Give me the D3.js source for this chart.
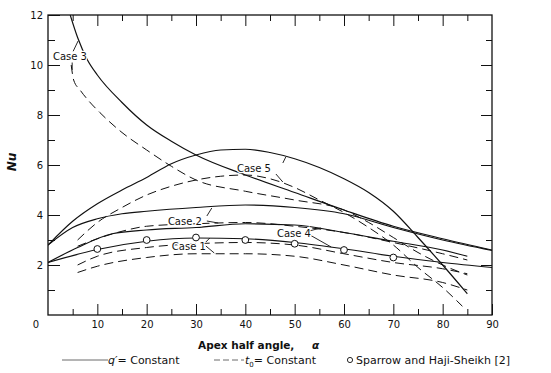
<!DOCTYPE html>
<html>
<head>
<meta charset="utf-8">
<script src="https://cdn.jsdelivr.net/npm/d3@7"></script>
<style>
  body { margin: 0; background: #fff; }
  svg text { font-family: "DejaVu Sans", sans-serif; fill: #111; }
</style>
</head>
<body>
<div id="chart"></div>
<script>
// tick values
const xTicks = [10, 20, 30, 40, 50, 60, 70, 80, 90];
const xMinorTicks = [5, 15, 25, 35, 45, 55, 65, 75, 85];
const yTicks = [2, 4, 6, 8, 10, 12];
const yMinorTicks = [1, 3, 5, 7, 9, 11];

// q' = constant (solid), [alpha, Nu]
const case1Solid = [[0, 2.1], [10, 2.62], [20, 2.95], [30, 3.08], [40, 3.05], [50, 2.9], [60, 2.65], [70, 2.35], [80, 2.1], [90, 1.9]];
const case2Solid = [[0, 2.8], [5, 3.5], [10, 3.85], [15, 4.05], [20, 4.15], [30, 4.3], [40, 4.4], [50, 4.3], [60, 4.05], [70, 3.5], [80, 3.0], [90, 2.58]];
const case3Solid = [[4.5, 12], [6, 11.1], [8, 10.2], [10, 9.6], [15, 8.5], [20, 7.6], [25, 6.95], [30, 6.4], [40, 5.6], [50, 4.9], [60, 4.2], [70, 3.55], [80, 3.05], [90, 2.6]];
const case4Solid = [[0, 2.1], [6, 2.7], [13, 3.25], [20, 3.4], [30, 3.5], [40, 3.65], [50, 3.6], [60, 3.3], [70, 2.95], [80, 2.6], [85, 2.35]];
const case5Solid = [[0, 2.8], [5, 3.75], [10, 4.45], [15, 5.0], [20, 5.5], [25, 6.05], [30, 6.4], [35, 6.6], [40, 6.63], [45, 6.5], [50, 6.25], [55, 5.9], [60, 5.45], [65, 4.9], [70, 4.15], [75, 3.1], [80, 2.0], [85, 0.85]];

// t0 = constant (dashed)
const case1Dashed = [[6, 1.7], [10, 1.95], [20, 2.3], [30, 2.45], [40, 2.45], [50, 2.35], [60, 2.0], [70, 1.6], [80, 1.3], [85, 1.0]];
const case2Dashed = [[6, 2.75], [10, 3.05], [15, 3.35], [20, 3.55], [30, 3.65], [40, 3.7], [50, 3.55], [60, 3.3], [70, 2.9], [80, 2.45], [85, 2.2]];
const case3Dashed = [[4.7, 10.0], [5.2, 9.4], [6.5, 9.0], [8.1, 8.6], [10.5, 8.1], [15, 7.3], [20, 6.6], [25, 5.95], [30, 5.4], [40, 4.95], [50, 4.6], [60, 4.2], [65, 3.7], [70, 3.1], [75, 2.5], [80, 2.0], [85, 1.6]];
const case4Dashed = [[6, 2.0], [10, 2.35], [20, 2.7], [30, 2.85], [40, 2.9], [50, 2.8], [60, 2.45], [70, 2.1], [80, 1.85], [85, 1.65]];
const case5Dashed = [[6, 3.0], [10, 3.7], [15, 4.3], [20, 4.8], [25, 5.15], [30, 5.4], [35, 5.55], [40, 5.6], [45, 5.45], [50, 5.1], [55, 4.6], [60, 4.1], [65, 3.5], [70, 2.8], [75, 1.9], [80, 1.1], [84, 0.35]];

// Sparrow and Haji-Sheikh [2]
const sparrowAlpha = [10, 20, 30, 40, 50, 60, 70];
const sparrowNu = [2.64, 3.0, 3.1, 3.0, 2.85, 2.6, 2.3];

// case labels, anchored in data units
const caseNames = ["Case 3", "Case 5", "Case 2", "Case 1", "Case 4"];
const caseAlpha = [1.0, 38.3, 24.3, 25.1, 46.4];
const caseNu = [10.2, 5.72, 3.6, 2.6, 3.12];
const leaders = [
  [[5.1, 10.55], [6.1, 10.96]], [[4.9, 10.1], [4.9, 9.8]],
  [[47.6, 6.08], [48.2, 6.32]], [[46.2, 5.64], [47.6, 5.32]],
  [[32.2, 3.96], [33.2, 4.28]], [[32.2, 3.76], [34.5, 3.68]],
  [[32.0, 2.92], [32.8, 3.08]], [[32.0, 2.76], [33.7, 2.48]],
  [[52.9, 3.36], [55.3, 3.48]], [[53.1, 3.2], [57.4, 2.72]]
];

const width = 551, height = 373;
const margin = { top: 15, right: 59, bottom: 58, left: 48 };

const x = d3.scaleLinear().domain([0, 90]).range([margin.left, width - margin.right]);
const y = d3.scaleLinear().domain([0, 12]).range([height - margin.bottom, margin.top]);

const svg = d3.select("#chart").append("svg")
  .attr("width", width)
  .attr("height", height);

svg.append("defs").append("clipPath").attr("id", "plot")
  .append("rect")
  .attr("x", x(0)).attr("y", y(12))
  .attr("width", x(90) - x(0)).attr("height", y(0) - y(12));

// axes, ticks pointing inwards
function tickAxis(axis, transform) {
  const g = svg.append("g").attr("transform", transform).call(axis);
  g.select(".domain").remove();
  g.selectAll(".tick line").attr("stroke", "#111").attr("stroke-width", 1);
  g.selectAll(".tick text").attr("font-size", 10).attr("fill", "#111")
    .attr("font-family", "DejaVu Sans");
  return g;
}

tickAxis(d3.axisBottom(x).tickValues(xTicks).tickSize(-11).tickPadding(6), `translate(0,${y(0)})`);
tickAxis(d3.axisBottom(x).tickValues(xMinorTicks).tickSize(-6).tickFormat(""), `translate(0,${y(0)})`);
tickAxis(d3.axisTop(x).tickValues(xTicks.slice(0, -1)).tickSize(-11).tickFormat(""), `translate(0,${y(12)})`);
tickAxis(d3.axisTop(x).tickValues(xMinorTicks).tickSize(-6).tickFormat(""), `translate(0,${y(12)})`);
tickAxis(d3.axisLeft(y).tickValues(yTicks).tickSize(-12).tickPadding(5), `translate(${x(0)},0)`);
tickAxis(d3.axisLeft(y).tickValues(yMinorTicks).tickSize(-7).tickFormat(""), `translate(${x(0)},0)`);
tickAxis(d3.axisRight(y).tickValues(yTicks.slice(0, -1)).tickSize(-11).tickFormat(""), `translate(${x(90)},0)`);
tickAxis(d3.axisRight(y).tickValues(yMinorTicks).tickSize(-6).tickFormat(""), `translate(${x(90)},0)`);

svg.append("rect")
  .attr("x", x(0)).attr("y", y(12))
  .attr("width", x(90) - x(0)).attr("height", y(0) - y(12))
  .attr("fill", "none").attr("stroke", "#111").attr("stroke-width", 1.3);

// shared origin label
svg.append("text")
  .attr("x", x(0) - 12).attr("y", y(0) + 13)
  .attr("text-anchor", "middle").attr("font-size", 10)
  .text("0");

const line = d3.line()
  .x(d => x(d[0]))
  .y(d => y(d[1]))
  .curve(d3.curveMonotoneX);

const plot = svg.append("g").attr("clip-path", "url(#plot)");

const solids = [case1Solid, case2Solid, case3Solid, case4Solid, case5Solid];
const dashes = [case1Dashed, case2Dashed, case3Dashed, case4Dashed, case5Dashed];

plot.selectAll(".dashed")
  .data(dashes)
  .enter()
  .append("path")
  .attr("class", "dashed")
  .attr("d", line)
  .attr("fill", "none")
  .attr("stroke", "#111")
  .attr("stroke-width", 1)
  .attr("stroke-dasharray", "9,5");

plot.selectAll(".solid")
  .data(solids)
  .enter()
  .append("path")
  .attr("class", "solid")
  .attr("d", line)
  .attr("fill", "none")
  .attr("stroke", "#111")
  .attr("stroke-width", 1.2);

// case labels + leader strokes
svg.selectAll(".leader")
  .data(leaders)
  .enter()
  .append("path")
  .attr("class", "leader")
  .attr("d", d3.line().x(d => x(d[0])).y(d => y(d[1])))
  .attr("stroke", "#111")
  .attr("stroke-width", 0.9);

svg.selectAll(".case")
  .data(caseNames)
  .enter()
  .append("text")
  .attr("class", "case")
  .attr("x", (_, i) => x(caseAlpha[i]))
  .attr("y", (_, i) => y(caseNu[i]))
  .attr("font-size", 10)
  .attr("stroke", "#fff")
  .attr("stroke-width", 2.5)
  .attr("paint-order", "stroke")
  .text(d => d);

svg.selectAll(".sparrow")
  .data(sparrowAlpha)
  .enter()
  .append("circle")
  .attr("class", "sparrow")
  .attr("cx", d => x(d))
  .attr("cy", (_, i) => y(sparrowNu[i]))
  .attr("r", 3.4)
  .attr("fill", "#fff")
  .attr("stroke", "#111")
  .attr("stroke-width", 1);

// axis titles
svg.append("text")
  .attr("transform", `translate(${16},${162}) rotate(-90)`)
  .attr("text-anchor", "middle")
  .attr("font-size", 12)
  .attr("font-style", "italic")
  .attr("font-weight", "bold")
  .text("Nu");

const xTitle = svg.append("text")
  .attr("x", 198).attr("y", 349)
  .attr("font-size", 10.5)
  .attr("font-weight", "bold");
xTitle.append("tspan").text("Apex half angle,");
xTitle.append("tspan").attr("x", 312).attr("font-style", "italic").text("α");

// legend
const legendY = 360;
svg.append("line")
  .attr("x1", 62).attr("x2", 108).attr("y1", legendY).attr("y2", legendY)
  .attr("stroke", "#444").attr("stroke-width", 0.8);
const l1 = svg.append("text").attr("x", 108).attr("y", legendY + 4).attr("font-size", 11);
l1.append("tspan").attr("font-style", "italic").text("q′");
l1.append("tspan").text("= Constant");

svg.append("line")
  .attr("x1", 214).attr("x2", 244).attr("y1", legendY).attr("y2", legendY)
  .attr("stroke", "#444").attr("stroke-width", 0.8)
  .attr("stroke-dasharray", "6,3");
const l2 = svg.append("text").attr("x", 245).attr("y", legendY + 4).attr("font-size", 11);
l2.append("tspan").attr("font-style", "italic").text("t");
l2.append("tspan").attr("font-size", 7).attr("dy", 3).text("0");
l2.append("tspan").attr("dy", -3).text("= Constant");

svg.append("circle")
  .attr("cx", 350).attr("cy", legendY)
  .attr("r", 2.6).attr("fill", "#fff").attr("stroke", "#111").attr("stroke-width", 0.9);
svg.append("text").attr("x", 356).attr("y", legendY + 4).attr("font-size", 11)
  .text("Sparrow and Haji-Sheikh [2]");
</script>
</body>
</html>
